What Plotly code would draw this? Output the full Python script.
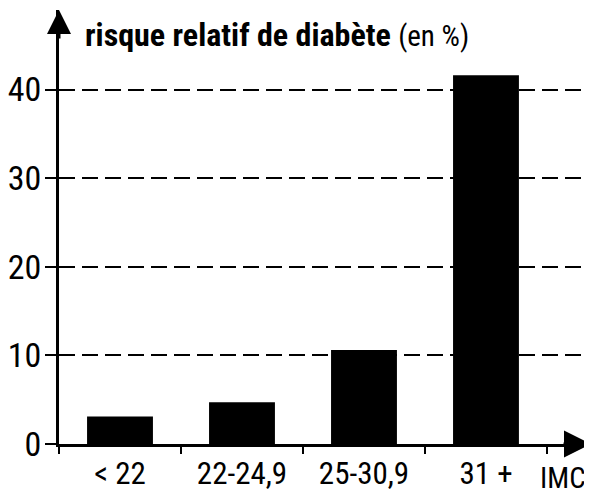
import plotly.graph_objects as go

categories = ["< 22", "22-24,9", "25-30,9", "31 +"]
risque = [3.1, 4.7, 10.6, 41.6]
y_ticks = [0, 10, 20, 30, 40]
y_tick_labels = ["0", "10", "20", "30", "40"]

FONT = "Liberation Sans Narrow, Roboto Condensed, Roboto, sans-serif"

# The page body has an 8px margin, so the figure is drawn 8px smaller
# and everything is laid out relative to that offset.
fig = go.Figure()
fig.add_trace(go.Bar(
    x=categories, y=risque,
    marker=dict(color="black", line=dict(width=0)),
    width=0.54,
    hoverinfo="skip",
))

fig.update_layout(
    width=584, height=487,
    margin=dict(l=51, r=0, t=2, b=51, autoexpand=False),
    paper_bgcolor="white", plot_bgcolor="white",
    showlegend=False,
    font=dict(family=FONT, color="black"),
)

fig.update_xaxes(
    type="category",
    range=[-0.5, 3.869],
    showline=True, linecolor="black", linewidth=3,
    ticks="outside", tickson="boundaries", ticklen=7, tickwidth=2, tickcolor="black",
    showgrid=False, zeroline=False,
    tickfont=dict(size=31, family=FONT, color="black"),
)

fig.update_yaxes(
    range=[0, 48.97],
    tickvals=y_ticks, ticktext=y_tick_labels,
    showline=True, linecolor="black", linewidth=3,
    ticks="outside", ticklen=11, tickwidth=2, tickcolor="black",
    ticklabelstandoff=-3,
    showgrid=True, gridcolor="black", gridwidth=2, griddash="16px,7px",
    zeroline=False,
    tickfont=dict(size=34, family=FONT, color="black"),
)

# axis arrowheads
fig.add_annotation(x=0, y=1, xref="paper", yref="paper", ax=0, ay=30,
                   showarrow=True, arrowhead=2, arrowwidth=3, arrowsize=1.6,
                   arrowcolor="black", text="")
fig.add_annotation(x=1, y=0, xref="paper", yref="paper", ax=-30, ay=0,
                   showarrow=True, arrowhead=2, arrowwidth=3, arrowsize=1.8,
                   arrowcolor="black", text="")

# title
fig.add_annotation(
    x=0.045, y=1, xref="paper", yref="paper",
    xanchor="left", yanchor="top", yshift=-4, showarrow=False,
    text="<b>risque relatif de diabète</b> <span style='font-size:29px'>(en %)</span>",
    font=dict(size=32, family=FONT, color="black"),
)

# x axis title
fig.add_annotation(
    x=1, y=0, xref="paper", yref="paper", xanchor="right", yanchor="top",
    yshift=-15, xshift=-4, showarrow=False, text="IMC",
    font=dict(size=29, family=FONT, color="black"),
)

fig.write_html("out.html")
